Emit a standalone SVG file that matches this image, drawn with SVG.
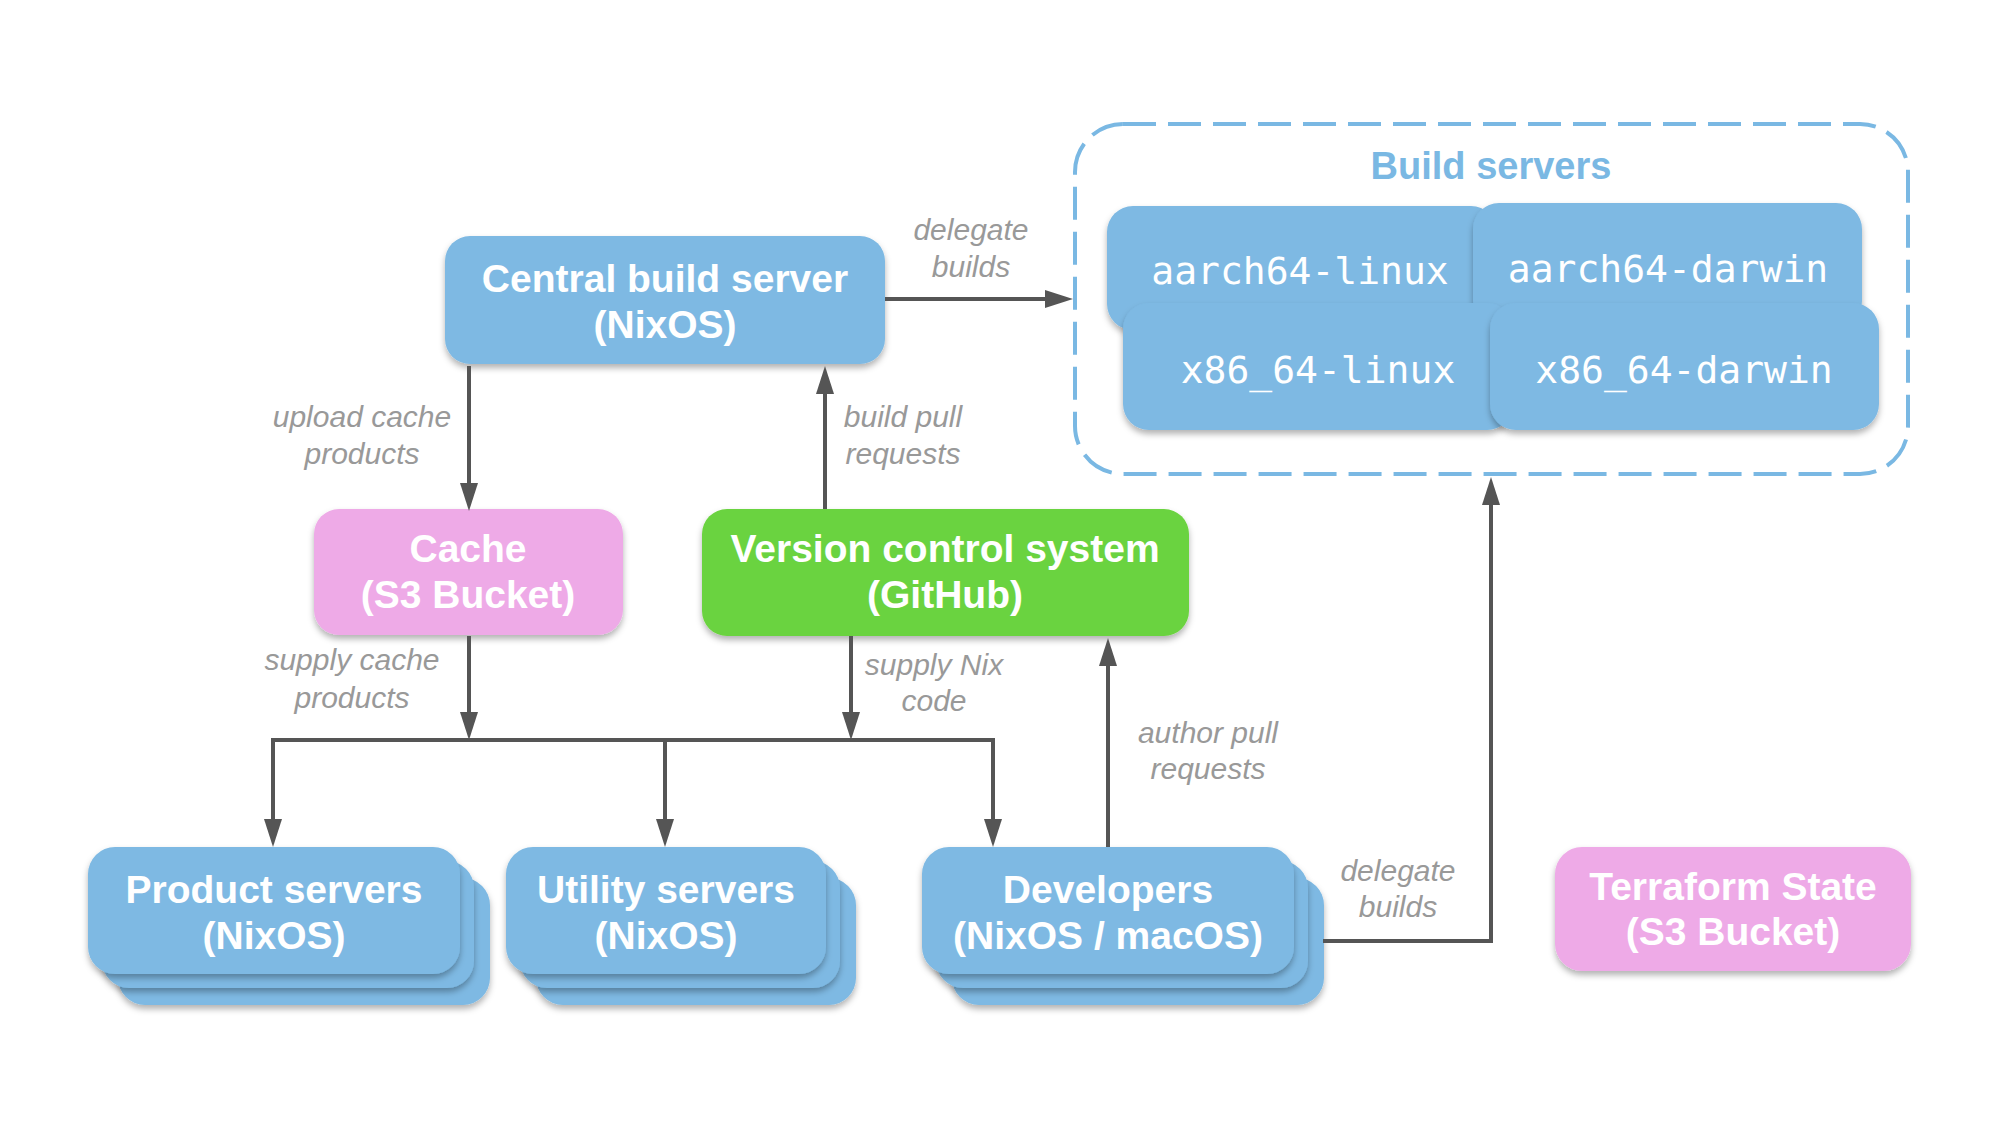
<svg xmlns="http://www.w3.org/2000/svg" width="2000" height="1125" viewBox="0 0 2000 1125">
<defs>
<filter id="sh" x="-10%" y="-10%" width="120%" height="130%">
<feDropShadow dx="0" dy="4" stdDeviation="3" flood-color="#000" flood-opacity="0.3"/>
</filter>
<marker id="ah" viewBox="0 0 28 20" refX="8" refY="10" markerWidth="28" markerHeight="20" markerUnits="userSpaceOnUse" orient="auto">
<path d="M0,1 L28,10 L0,19 z" fill="#555"/>
</marker>
<style>
.blue{fill:#7eb9e3;filter:url(#sh)}
.pink{fill:#eeaae7;filter:url(#sh)}
.green{fill:#6bd33f;filter:url(#sh)}
.nt{font-family:"Liberation Sans",Arial,sans-serif;font-weight:bold;font-size:39px;fill:#fff;text-anchor:middle}
.mono{font-family:"DejaVu Sans Mono","Liberation Mono",monospace;font-size:38px;fill:#fff;text-anchor:middle}
.lb{font-family:"Liberation Sans",Arial,sans-serif;font-style:italic;font-size:30px;fill:#999;text-anchor:middle}
.cn{fill:none;stroke:#555;stroke-width:4}
.ar{marker-end:url(#ah)}
</style>
</defs>
<rect width="2000" height="1125" fill="#fff"/>

<g id="build-servers">
<rect x="1075" y="124" width="833" height="350" rx="48" fill="none" stroke="#7ab8e3" stroke-width="4" stroke-dasharray="33 12"/>
<text x="1491" y="179" font-family="Liberation Sans,Arial,sans-serif" font-weight="bold" font-size="38" fill="#7ab8e3" text-anchor="middle">Build servers</text>
</g>
<g id="aarch64-linux">
<rect class="blue" x="1107" y="206" width="390" height="124" rx="26"/>
<text class="mono" x="1300" y="284">aarch64-linux</text>
</g>
<g id="aarch64-darwin">
<rect class="blue" x="1473" y="203" width="389" height="124" rx="26"/>
<text class="mono" x="1668" y="282">aarch64-darwin</text>
</g>
<g id="x86_64-linux">
<rect class="blue" x="1123" y="303" width="390" height="127" rx="26"/>
<text class="mono" x="1318" y="383">x86_64-linux</text>
</g>
<g id="x86_64-darwin">
<rect class="blue" x="1490" y="303" width="389" height="127" rx="26"/>
<text class="mono" x="1684" y="383">x86_64-darwin</text>
</g>

<g id="central">
<rect class="blue" x="445" y="236" width="440" height="128" rx="25"/>
<text class="nt" x="665" y="292">Central build server</text>
<text class="nt" x="665" y="338">(NixOS)</text>
</g>
<g id="cache">
<rect class="pink" x="314" y="509" width="309" height="126" rx="25"/>
<text class="nt" x="468" y="562">Cache</text>
<text class="nt" x="468" y="608">(S3 Bucket)</text>
</g>
<g id="vcs">
<rect class="green" x="702" y="509" width="487" height="127" rx="25"/>
<text class="nt" x="945" y="562">Version control system</text>
<text class="nt" x="945" y="608">(GitHub)</text>
</g>
<g id="product">
<rect class="blue" x="118" y="878" width="372" height="127" rx="27"/>
<rect class="blue" x="102" y="861" width="372" height="127" rx="27"/>
<rect class="blue" x="88" y="847" width="372" height="127" rx="27"/>
<text class="nt" x="274" y="903">Product servers</text>
<text class="nt" x="274" y="949">(NixOS)</text>
</g>
<g id="utility">
<rect class="blue" x="536" y="878" width="320" height="127" rx="27"/>
<rect class="blue" x="520" y="861" width="320" height="127" rx="27"/>
<rect class="blue" x="506" y="847" width="320" height="127" rx="27"/>
<text class="nt" x="666" y="903">Utility servers</text>
<text class="nt" x="666" y="949">(NixOS)</text>
</g>
<g id="developers">
<rect class="blue" x="952" y="878" width="372" height="127" rx="27"/>
<rect class="blue" x="936" y="861" width="372" height="127" rx="27"/>
<rect class="blue" x="922" y="847" width="372" height="127" rx="27"/>
<text class="nt" x="1108" y="903">Developers</text>
<text class="nt" x="1108" y="949">(NixOS / macOS)</text>
</g>
<g id="terraform">
<rect class="pink" x="1555" y="847" width="356" height="124" rx="27"/>
<text class="nt" x="1733" y="900">Terraform State</text>
<text class="nt" x="1733" y="945">(S3 Bucket)</text>
</g>

<g id="connectors">
<path class="cn ar" d="M885,299 H1053"/>
<path class="cn ar" d="M469,366 V491"/>
<path class="cn ar" d="M825,509 V386"/>
<path class="cn ar" d="M469,636 V720"/>
<path class="cn ar" d="M851,636 V720"/>
<path class="cn" d="M271,740 H995"/>
<path class="cn ar" d="M273,740 V827"/>
<path class="cn ar" d="M665,740 V827"/>
<path class="cn ar" d="M993,740 V827"/>
<path class="cn ar" d="M1108,847 V658"/>
<path class="cn ar" d="M1323,941 H1491 V497"/>
<text class="lb" x="971" y="240">delegate</text>
<text class="lb" x="971" y="277">builds</text>
<text class="lb" x="362" y="427">upload cache</text>
<text class="lb" x="362" y="464">products</text>
<text class="lb" x="903" y="427">build pull</text>
<text class="lb" x="903" y="464">requests</text>
<text class="lb" x="352" y="670">supply cache</text>
<text class="lb" x="352" y="708">products</text>
<text class="lb" x="934" y="675">supply Nix</text>
<text class="lb" x="934" y="711">code</text>
<text class="lb" x="1208" y="743">author pull</text>
<text class="lb" x="1208" y="779">requests</text>
<text class="lb" x="1398" y="881">delegate</text>
<text class="lb" x="1398" y="917">builds</text>
</g>
</svg>
